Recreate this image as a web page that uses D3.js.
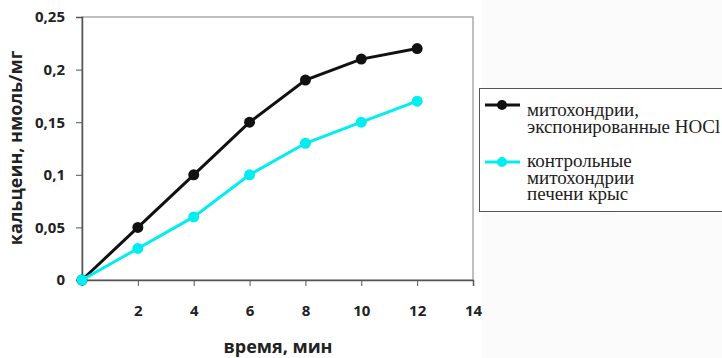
<!DOCTYPE html>
<html>
<head>
<meta charset="utf-8">
<script src="https://cdn.jsdelivr.net/npm/d3@7"></script>
<style>
  body { margin: 0; background: #fff; }
  .tick text { font-family: "Open Sans", "DejaVu Sans", sans-serif; font-weight: bold; font-size: 15px; fill: #222; }
  .axis-title { font-family: "Open Sans", "DejaVu Sans", sans-serif; font-weight: bold; font-size: 18px; fill: #222; }
  .legend-text { font-family: "Liberation Serif", "Times New Roman", serif; font-size: 19px; fill: #222; }
</style>
</head>
<body>
<div id="chart"></div>
<script>
var svgWidth = 722;
var svgHeight = 358;

// data
var times = [0, 2, 4, 6, 8, 10, 12];
var exposedValues = [0, 0.05, 0.1, 0.15, 0.19, 0.21, 0.22];
var controlValues = [0, 0.03, 0.06, 0.1, 0.13, 0.15, 0.17];
var xTicks = [2, 4, 6, 8, 10, 12, 14];
var yTicks = [0, 0.05, 0.1, 0.15, 0.2, 0.25];
var seriesNames = [["митохондрии,", "экспонированные HOCl"], ["контрольные", "митохондрии", "печени крыс"]];
var seriesColors = ["#111111", "#00eef0"];

var margin = { top: 17, left: 82 };
var width = 473 - 82;
var height = 280 - 17;

var svg = d3.select("#chart").append("svg")
  .attr("width", svgWidth)
  .attr("height", svgHeight);

// very faint grey area on the legend side
svg.append("rect")
  .attr("x", 482).attr("y", 0)
  .attr("width", svgWidth - 482).attr("height", svgHeight)
  .attr("fill", "#fbfbfb");

var chartGroup = svg.append("g")
  .attr("transform", `translate(${margin.left}, ${margin.top})`);

var xScale = d3.scaleLinear().domain([0, 14]).range([0, width]);
var yScale = d3.scaleLinear().domain([0, 0.25]).range([height, 0]);

// plot frame
chartGroup.append("rect")
  .attr("x", 0).attr("y", 0)
  .attr("width", width).attr("height", height)
  .attr("fill", "#fff")
  .attr("stroke", "#aaa")
  .attr("stroke-width", 1.5);

var fmt = d => d3.format("")(d).replace(".", ",");

var leftAxis = d3.axisLeft(yScale).tickValues(yTicks).tickSize(6).tickPadding(11).tickFormat(fmt);
var yAxis = chartGroup.append("g").call(leftAxis);
yAxis.select(".domain").attr("stroke", "#555").attr("stroke-width", 1.5);
yAxis.selectAll(".tick line").attr("stroke", "#555");

var bottomAxis = d3.axisBottom(xScale).tickValues([0].concat(xTicks)).tickSize(6).tickPadding(19)
  .tickFormat(d => d === 0 ? "" : d);
var xAxis = chartGroup.append("g")
  .attr("transform", `translate(0, ${height})`)
  .call(bottomAxis);
xAxis.select(".domain").attr("stroke", "#555").attr("stroke-width", 1.5);
xAxis.selectAll(".tick line").attr("stroke", "#555");

// lines
var allSeries = [exposedValues, controlValues];
var line = d3.line()
  .x((d, i) => xScale(times[i]))
  .y(d => yScale(d));

allSeries.forEach(function(values, s) {
  chartGroup.append("path")
    .datum(values)
    .attr("fill", "none")
    .attr("stroke", seriesColors[s])
    .attr("stroke-width", 3)
    .attr("d", line);
  chartGroup.selectAll(".pt" + s)
    .data(values)
    .enter()
    .append("circle")
    .attr("class", "pt" + s)
    .attr("cx", (d, i) => xScale(times[i]))
    .attr("cy", d => yScale(d))
    .attr("r", 5.5)
    .attr("fill", seriesColors[s]);
});

// axis titles
svg.append("text")
  .attr("class", "axis-title")
  .attr("transform", `translate(22, ${148}) rotate(-90)`)
  .attr("text-anchor", "middle")
  .text("кальцеин, нмоль/мг");

svg.append("text")
  .attr("class", "axis-title")
  .attr("x", 278).attr("y", 353)
  .attr("text-anchor", "middle")
  .text("время, мин");

// legend
var legend = svg.append("g");
legend.append("rect")
  .attr("x", 479.5).attr("y", 88.5)
  .attr("width", 260).attr("height", 123)
  .attr("fill", "#fff")
  .attr("stroke", "#555")
  .attr("stroke-width", 1);

var legendY = [105, 162];
var legendBase = [116, 167];
seriesNames.forEach(function(lines, s) {
  legend.append("line")
    .attr("x1", 485).attr("x2", 520)
    .attr("y1", legendY[s]).attr("y2", legendY[s])
    .attr("stroke", seriesColors[s])
    .attr("stroke-width", 3);
  legend.append("circle")
    .attr("cx", 502).attr("cy", legendY[s])
    .attr("r", 5)
    .attr("fill", seriesColors[s]);
  var t = legend.append("text")
    .attr("class", "legend-text")
    .attr("x", 527).attr("y", legendBase[s]);
  t.selectAll("tspan")
    .data(lines)
    .enter()
    .append("tspan")
    .attr("x", 527)
    .attr("dy", (d, i) => i === 0 ? 0 : 16.7)
    .text(d => d);
});
</script>
</body>
</html>
